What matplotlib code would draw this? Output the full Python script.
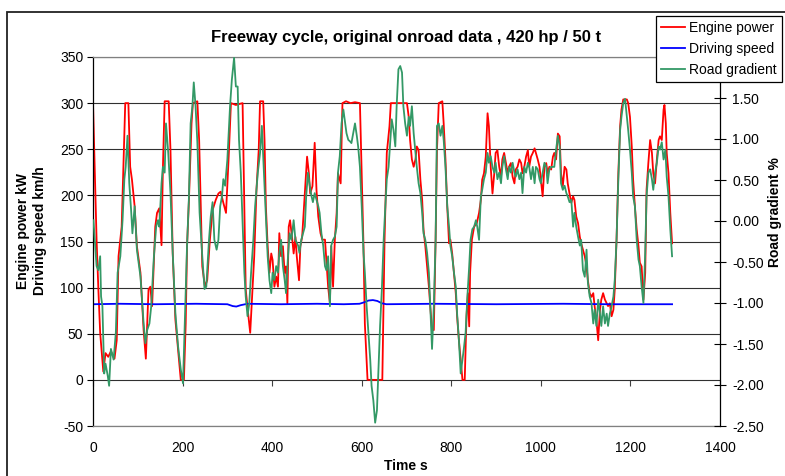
import matplotlib.pyplot as plt
from matplotlib.patches import Rectangle

plt.rcParams['font.family'] = ['Liberation Sans', 'DejaVu Sans']
plt.rcParams['axes.unicode_minus'] = False

# engine power (kW) over time (s)
power_time = [0, 8, 12, 16, 23, 28, 34, 40, 48, 53, 57, 64, 72, 79, 83, 87, 93, 98, 106, 113,
              118, 124, 128, 132, 139, 143, 148, 153, 156, 160, 169, 173, 178, 184, 192, 196, 203, 207, 210, 214,
              220, 223, 233, 237, 244, 250, 255, 261, 267, 274, 280, 285, 291, 297, 303, 308, 319, 334, 338, 341,
              347, 351, 355, 360, 365, 370, 373, 380, 383, 386, 390, 394, 398, 401, 405, 409, 413, 416, 420, 424,
              428, 431, 434, 437, 440, 445, 448, 452, 455, 460, 463, 467, 473, 478, 482, 485, 490, 495, 499, 503,
              508, 512, 518, 521, 525, 529, 532, 536, 540, 544, 547, 553, 557, 565, 575, 585, 596, 600, 604, 607,
              613, 646, 651, 656, 662, 665, 701, 705, 708, 712, 716, 720, 723, 727, 731, 735, 738, 742, 746, 750,
              753, 757, 761, 765, 768, 772, 780, 783, 787, 791, 795, 798, 802, 806, 810, 813, 817, 821, 825, 830,
              834, 837, 840, 842, 846, 851, 857, 862, 866, 869, 873, 877, 881, 884, 888, 892, 896, 899, 903, 907,
              911, 914, 918, 922, 926, 929, 933, 937, 941, 944, 948, 952, 956, 959, 963, 967, 971, 974, 978, 982,
              986, 989, 993, 997, 1000, 1004, 1008, 1012, 1015, 1019, 1023, 1027, 1030, 1034, 1038, 1042, 1045, 1049, 1053, 1057,
              1060, 1064, 1068, 1072, 1075, 1079, 1083, 1087, 1090, 1094, 1098, 1102, 1105, 1109, 1113, 1117, 1120, 1124, 1128, 1132,
              1135, 1139, 1143, 1147, 1150, 1154, 1158, 1162, 1165, 1169, 1173, 1177, 1180, 1184, 1192, 1195, 1199, 1203, 1206, 1210,
              1214, 1218, 1221, 1225, 1229, 1233, 1236, 1240, 1244, 1248, 1251, 1255, 1259, 1263, 1266, 1270, 1274, 1276, 1279, 1281,
              1285, 1289, 1293]
power_kw = [300, 152, 98, 51, 9, 29, 25, 31, 23, 43, 134, 166, 300, 300, 231, 217, 188, 145, 116, 54,
            23, 98, 101, 80, 166, 181, 186, 146, 228, 302, 302, 249, 137, 65, 22, 0, 0, 61, 145, 192,
            278, 300, 302, 260, 123, 101, 108, 152, 184, 195, 202, 204, 192, 181, 242, 300, 298, 300, 188, 98,
            69, 51, 87, 134, 206, 249, 302, 302, 260, 188, 145, 116, 137, 130, 101, 112, 101, 159, 134, 145,
            116, 123, 83, 166, 173, 152, 137, 155, 134, 108, 145, 155, 202, 242, 224, 202, 210, 257, 206, 177,
            159, 152, 152, 130, 101, 83, 145, 101, 152, 181, 224, 213, 300, 302, 300, 301, 300, 224, 145, 61,
            0, 0, 152, 246, 275, 300, 300, 285, 260, 239, 231, 239, 253, 249, 217, 195, 163, 145, 123, 101,
            80, 54, 54, 152, 249, 300, 302, 278, 239, 188, 148, 152, 137, 116, 94, 69, 43, 22, 0, 0,
            69, 94, 58, 116, 152, 166, 170, 181, 195, 217, 224, 242, 289, 275, 231, 202, 224, 246, 249, 231,
            220, 239, 246, 235, 224, 231, 235, 220, 213, 228, 231, 239, 235, 224, 231, 242, 249, 231, 242, 246,
            251, 246, 239, 231, 217, 199, 231, 235, 224, 231, 228, 242, 246, 239, 267, 264, 224, 210, 231, 228,
            213, 202, 192, 199, 195, 177, 170, 155, 148, 141, 134, 123, 108, 94, 90, 94, 80, 65, 43, 76,
            87, 94, 87, 83, 80, 83, 69, 76, 98, 152, 224, 275, 293, 304, 304, 300, 285, 253, 217, 188,
            163, 145, 127, 123, 87, 116, 206, 235, 260, 246, 224, 213, 239, 260, 264, 260, 293, 298, 278, 246,
            224, 181, 148]

# driving speed (km/h)
speed_time = [0, 60, 140, 230, 300, 312, 320, 330, 345, 420, 500, 560, 595, 605, 615, 625, 635, 645, 655, 760,
              900, 1050, 1150, 1293]
speed_kmh = [82, 82.5, 82, 82.5, 82, 80, 79.5, 81, 82.5, 82, 82.5, 82, 82.5, 84, 86, 86.5, 85.5, 83, 82, 82.5,
             82, 82.5, 82, 82]

# road gradient (%)
grad_time = [1, 4, 8, 12, 16, 18, 21, 25, 28, 33, 36, 40, 46, 51, 55, 61, 66, 70, 73, 77,
             81, 85, 88, 93, 98, 106, 113, 117, 121, 126, 130, 136, 141, 145, 148, 153, 156, 160, 163, 168,
             173, 178, 184, 190, 196, 201, 205, 210, 214, 218, 222, 225, 229, 233, 238, 244, 249, 253, 259, 263,
             267, 271, 276, 280, 284, 288, 291, 295, 300, 306, 310, 315, 319, 323, 326, 330, 334, 338, 341, 345,
             349, 353, 358, 362, 368, 373, 377, 380, 385, 390, 394, 398, 401, 405, 409, 413, 416, 420, 424, 428,
             431, 435, 439, 443, 448, 452, 458, 461, 465, 469, 473, 476, 480, 484, 488, 491, 495, 499, 503, 506,
             510, 514, 518, 521, 525, 529, 532, 536, 540, 544, 547, 551, 555, 559, 562, 566, 570, 574, 577, 581,
             585, 589, 592, 596, 600, 604, 607, 611, 615, 619, 622, 626, 630, 634, 637, 641, 645, 649, 652, 656,
             660, 664, 667, 671, 675, 678, 682, 686, 690, 693, 697, 701, 705, 708, 712, 716, 720, 723, 727, 731,
             735, 738, 742, 746, 750, 753, 757, 761, 765, 768, 772, 776, 780, 783, 787, 791, 795, 798, 802, 806,
             810, 813, 817, 821, 825, 828, 832, 836, 840, 843, 847, 851, 855, 858, 862, 866, 869, 873, 877, 881,
             884, 888, 892, 896, 899, 903, 907, 911, 914, 918, 922, 926, 929, 933, 937, 941, 944, 948, 952, 956,
             959, 963, 967, 971, 974, 978, 982, 986, 989, 993, 997, 1000, 1004, 1008, 1012, 1015, 1019, 1023, 1030, 1034,
             1038, 1042, 1045, 1049, 1053, 1057, 1060, 1064, 1068, 1072, 1075, 1079, 1083, 1087, 1090, 1094, 1098, 1102, 1105, 1109,
             1113, 1117, 1120, 1124, 1128, 1132, 1135, 1139, 1143, 1147, 1150, 1154, 1158, 1162, 1165, 1169, 1173, 1177, 1180, 1184,
             1188, 1192, 1195, 1199, 1203, 1206, 1210, 1214, 1218, 1221, 1225, 1229, 1233, 1236, 1240, 1244, 1248, 1251, 1255, 1259,
             1263, 1266, 1270, 1274, 1278, 1281, 1285, 1289, 1293]
grad_pct = [0.01, -0.23, -0.55, -0.60, -0.43, -0.92, -1.04, -1.86, -1.74, -1.89, -2.01, -1.56, -1.69, -1.36, -0.63, -0.43, 0.01, 0.51, 0.66, 1.04,
            0.46, 0.14, -0.15, 0.18, -0.35, -0.68, -1.25, -1.49, -1.33, -1.25, -1.04, -0.43, -0.07, 0.01, -0.07, 0.46, 0.66, 0.59, 1.19, 0.83,
            0.34, -0.39, -1.13, -1.53, -1.81, -1.98, -1.25, -0.30, 0.26, 1.19, 1.40, 1.69, 1.40, 0.96, 0.10, -0.43, -0.83, -0.80, -0.23, 0.06,
            0.23, -0.23, -0.35, -0.23, 0.18, 0.30, 0.51, 0.43, 0.75, 1.40, 1.72, 1.99, 1.64, 1.64, 0.99, 0.59, -0.02, -0.63, -0.92, -1.16,
            -1.00, -0.63, -0.23, 0.18, 0.59, 0.83, 1.16, 0.79, 0.18, -0.43, -0.72, -0.88, -0.63, -0.72, -0.55, -0.63, -0.39, -0.23, -0.55, -0.72,
            -0.88, -0.47, -0.15, -0.23, 0.01, -0.23, -0.30, -0.39, -0.23, -0.15, -0.07, 0.30, 0.59, 0.43, 0.30, 0.23, 0.34, 0.26, 0.18, 0.10,
            -0.15, -0.30, -0.55, -0.60, -0.43, -1.04, -0.30, -0.23, -0.19, -0.07, 0.59, 0.79, 1.19, 1.36, 1.24, 1.07, 0.99, 0.97, 0.95, 1.07,
            1.19, 1.04, 0.91, 0.66, 0.18, -0.39, -0.63, -1.04, -1.36, -1.69, -2.01, -2.19, -2.46, -2.31, -1.86, -1.28, -0.83, -0.23, 0.10, 0.51,
            0.66, 0.99, 1.24, 1.11, 0.91, 1.40, 1.85, 1.89, 1.81, 1.40, 1.19, 1.04, 1.27, 1.16, 1.40, 1.07, 0.83, 0.66, 0.46, 0.34,
            0.10, -0.15, -0.23, -0.39, -0.63, -1.04, -1.56, -1.04, -0.23, 1.16, 1.19, 1.04, 1.16, 0.99, 0.66, 0.18, -0.07, -0.30, -0.43, -0.63,
            -0.80, -1.13, -1.45, -1.86, -1.69, -1.56, -1.36, -0.92, -0.55, -0.23, -0.10, -0.07, 0.01, -0.07, -0.23, 0.30, 0.38, 0.51, 0.59, 0.83,
            0.71, 0.79, 0.66, 0.59, 0.71, 0.51, 0.59, 0.46, 0.66, 0.79, 0.63, 0.51, 0.66, 0.59, 0.71, 0.59, 0.54, 0.63, 0.51, 0.59,
            0.34, 0.66, 0.59, 0.71, 0.66, 0.51, 0.66, 0.46, 0.66, 0.63, 0.51, 0.46, 0.59, 0.71, 0.66, 0.46, 0.63, 0.66, 0.66, 0.87,
            1.04, 0.91, 0.46, 0.38, 0.43, 0.34, 0.30, 0.23, 0.26, -0.07, 0.10, -0.07, -0.19, -0.30, -0.23, -0.60, -0.68, -0.35, -0.75, -0.92,
            -1.00, -1.25, -1.08, -1.28, -0.96, -1.13, -1.28, -1.04, -1.25, -1.13, -1.28, -1.13, -1.04, -0.92, -0.72, -0.23, 0.51, 1.11, 1.27, 1.44,
            1.49, 1.27, 1.11, 0.87, 0.59, 0.30, 0.18, -0.23, -0.47, -0.55, -0.80, -1.00, -0.39, 0.30, 0.59, 0.63, 0.51, 0.38, 0.59, 0.71,
            0.91, 0.87, 0.96, 0.75, 0.87, 0.54, 0.30, -0.10, -0.43]

left_ticks = [-50, 0, 50, 100, 150, 200, 250, 300, 350]
right_ticks = [-2.5, -2.0, -1.5, -1.0, -0.5, 0.0, 0.5, 1.0, 1.5]
time_ticks = [0, 200, 400, 600, 800, 1000, 1200, 1400]

W, H = 785, 476
fig = plt.figure(figsize=(W / 100, H / 100), dpi=100)
ax = fig.add_axes([93 / W, 1 - 426 / H, (720 - 93) / W, (426 - 57) / H])

# chart area frame (cut at the right and bottom edge)
fig.add_artist(Rectangle((7 / W, -0.1), 1.2, 1 - 12 / H + 0.1, transform=fig.transFigure,
                         fill=False, edgecolor='#222222', linewidth=1.3))

ax.set_xlim(0, 1400)
ax.set_ylim(-50, 350)
ax.set_xticks(time_ticks)
ax.set_yticks(left_ticks)
ax.grid(axis='y', color='#303030', linewidth=0.8)
ax.set_axisbelow(True)
ax.tick_params(axis='x', length=0, pad=11, labelsize=10)
ax.tick_params(axis='y', direction='out', length=4, width=0.8, pad=3, labelsize=10)
ax.spines['left'].set_color('black')
ax.spines['left'].set_linewidth(0.9)
for s in ['top', 'bottom']:
    ax.spines[s].set_color('#808080')
    ax.spines[s].set_linewidth(0.9)
ax.spines['right'].set_visible(False)

# x axis crosses the left axis at 0
secax = ax.secondary_xaxis(50 / 400)
secax.set_xticks(time_ticks)
secax.set_xticklabels([])
secax.tick_params(direction='out', length=4, width=0.8, color='#404040')
for s in secax.spines.values():
    s.set_visible(False)

l1, = ax.plot(power_time, power_kw, color='#ff0000', linewidth=1.3)
l2, = ax.plot(speed_time, speed_kmh, color='#0000ff', linewidth=1.3)

ax2 = ax.twinx()
ax2.set_ylim(-2.5, 2.0)
ax2.set_yticks(right_ticks)
ax2.set_yticklabels([f'{v:.2f}' for v in right_ticks])
ax2.tick_params(axis='y', direction='inout', length=8, width=0.8, pad=5, labelsize=10)
for s in ['left', 'top', 'bottom']:
    ax2.spines[s].set_visible(False)
ax2.spines['right'].set_linewidth(0.9)
l3, = ax2.plot(grad_time, grad_pct, color='#339966', linewidth=1.3)

fig.text(406 / W, 1 - 38 / H, 'Freeway cycle, original onroad data , 420 hp / 50 t',
         ha='center', va='center', fontsize=12, fontweight='bold')
fig.text(406 / W, 1 - 466 / H, 'Time s', ha='center', va='center', fontsize=10, fontweight='bold')
fig.text(31.5 / W, 1 - 231 / H, 'Engine power kW\nDriving speed km/h', rotation=90,
         ha='center', va='center', multialignment='center', linespacing=1.2,
         fontsize=10, fontweight='bold')
fig.text(775 / W, 1 - 212 / H, 'Road gradient %', rotation=90, ha='center', va='center',
         fontsize=10, fontweight='bold')

leg = fig.legend([l1, l2, l3], ['Engine power', 'Driving speed', 'Road gradient'],
                 loc='lower left', bbox_to_anchor=(656 / W, 1 - 82 / H), fontsize=10,
                 frameon=True, fancybox=False, framealpha=1, edgecolor='black',
                 handlelength=1.75, handletextpad=0.3, borderpad=0.35, labelspacing=0.5,
                 borderaxespad=0)
leg.get_frame().set_linewidth(0.9)

fig.savefig('out.png', dpi=100)
